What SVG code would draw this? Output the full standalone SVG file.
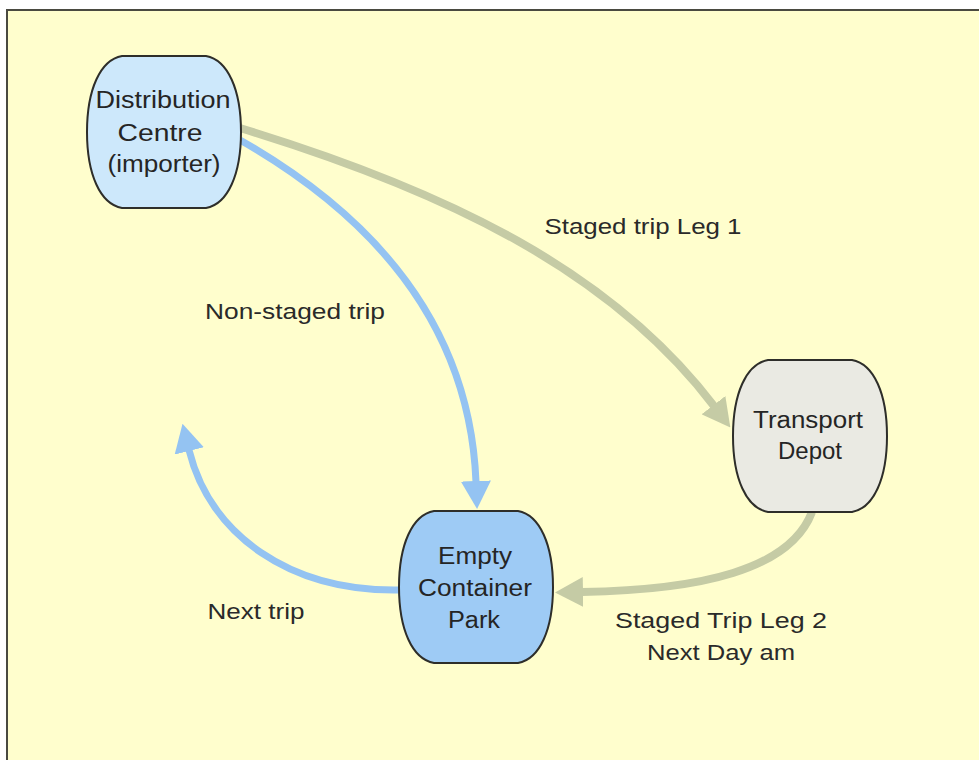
<svg xmlns="http://www.w3.org/2000/svg" width="979" height="760" viewBox="0 0 979 760">
  <style>
    .node-shape { stroke: #2e2e2a; stroke-width: 2; }
    .node-text { font-family: "Liberation Sans", Arial, sans-serif; font-size: 23px; fill: #252525; text-anchor: middle; }
    .label { font-family: "Liberation Sans", Arial, sans-serif; font-size: 22px; fill: #2a2a2a; text-anchor: middle; }
    .blue { fill: none; stroke: #94c3f2; stroke-width: 7; }
    .olive { fill: none; stroke: #c5cba5; stroke-width: 8; }
  </style>
  <defs>
    <!-- barrel-shaped node outline, centred on 0,0 -->
    <path id="barrel" d="M -42,-76 L 42,-76 C 64,-72 77,-42 77,0 C 77,42 64,72 42,76 L -42,76 C -64,72 -77,42 -77,0 C -77,-42 -64,-72 -42,-76 Z"/>
    <marker id="head-blue" viewBox="0 0 28 30" refX="1" refY="15" markerWidth="28" markerHeight="30" markerUnits="userSpaceOnUse" orient="auto">
      <path d="M0,0 L28,15 L0,30 Z" fill="#94c3f2"/>
    </marker>
    <marker id="head-olive" viewBox="0 0 28 30" refX="1" refY="15" markerWidth="28" markerHeight="30" markerUnits="userSpaceOnUse" orient="auto">
      <path d="M0,0 L28,15 L0,30 Z" fill="#c5cba5"/>
    </marker>
  </defs>

  <!-- page -->
  <rect x="0" y="0" width="979" height="760" fill="#ffffff"/>
  <rect x="7" y="10" width="990" height="770" fill="#fffecd" stroke="#4a4a40" stroke-width="2"/>

  <!-- connectors -->
  <g id="connectors">
    <path class="olive" d="M240,128 C450,192 612,272 714,406" marker-end="url(#head-olive)"/>
    <path class="blue" d="M240,140 C380,220 470,330 476,482" marker-end="url(#head-blue)"/>
    <path class="olive" d="M812,512 C790,570 700,590 582,592" marker-end="url(#head-olive)"/>
    <path class="blue" d="M400,590 C290,592 210,535 189,450" marker-end="url(#head-blue)"/>
  </g>

  <!-- edge labels -->
  <g id="labels">
    <text class="label" x="643" y="234" textLength="197" lengthAdjust="spacingAndGlyphs">Staged trip Leg 1</text>
    <text class="label" x="295" y="319" textLength="180" lengthAdjust="spacingAndGlyphs">Non-staged trip</text>
    <text class="label" x="256" y="619" textLength="97" lengthAdjust="spacingAndGlyphs">Next trip</text>
    <text class="label" x="721" y="628" textLength="212" lengthAdjust="spacingAndGlyphs">Staged Trip Leg 2</text>
    <text class="label" x="721" y="660" textLength="148" lengthAdjust="spacingAndGlyphs">Next Day am</text>
  </g>

  <!-- nodes -->
  <g id="distribution-centre">
    <use href="#barrel" x="164" y="132" class="node-shape" fill="#cde8fb"/>
    <text class="node-text" x="163" y="108" textLength="135" lengthAdjust="spacingAndGlyphs">Distribution</text>
    <text class="node-text" x="160" y="141" textLength="85" lengthAdjust="spacingAndGlyphs">Centre</text>
    <text class="node-text" x="164" y="172" textLength="113" lengthAdjust="spacingAndGlyphs">(importer)</text>
  </g>

  <g id="transport-depot">
    <use href="#barrel" x="810" y="436" class="node-shape" fill="#eaeae3"/>
    <text class="node-text" x="808" y="428" textLength="110" lengthAdjust="spacingAndGlyphs">Transport</text>
    <text class="node-text" x="810" y="459" textLength="64" lengthAdjust="spacingAndGlyphs">Depot</text>
  </g>

  <g id="empty-container-park">
    <use href="#barrel" x="476" y="587" class="node-shape" fill="#9ecbf5"/>
    <text class="node-text" x="475" y="564" textLength="74" lengthAdjust="spacingAndGlyphs">Empty</text>
    <text class="node-text" x="475" y="596" textLength="114" lengthAdjust="spacingAndGlyphs">Container</text>
    <text class="node-text" x="474" y="628" textLength="52" lengthAdjust="spacingAndGlyphs">Park</text>
  </g>
</svg>
